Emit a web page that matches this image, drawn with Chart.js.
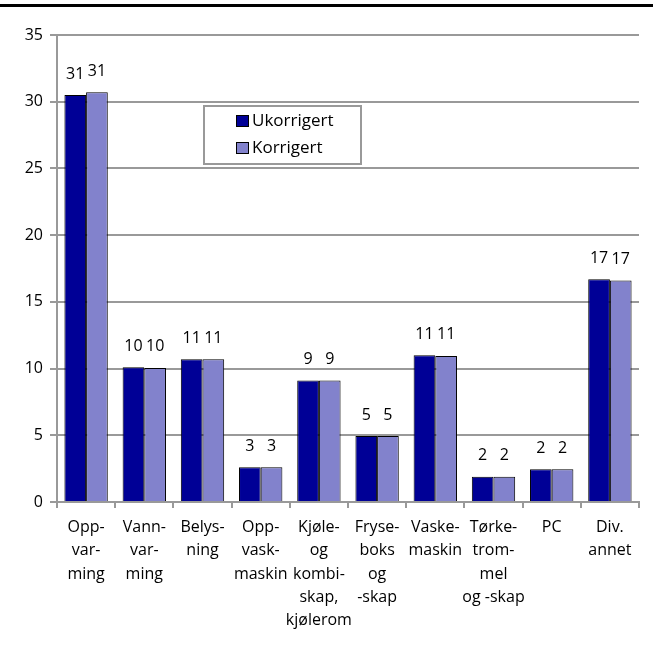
<!DOCTYPE html>
<html>
<head>
<meta charset="utf-8">
<script src="https://cdn.jsdelivr.net/npm/chart.js@4/dist/chart.umd.min.js"></script>
<style>
  html, body { margin: 0; padding: 0; background: #fff; }
  #wrap { position: relative; width: 653px; height: 648px; }
  #topline { position: absolute; left: 0; top: 4px; width: 653px; height: 3px; background: #000; }
  canvas { position: absolute; left: 0; top: 0; }
</style>
</head>
<body>
<div id="wrap">
  <canvas id="c" width="653" height="648"></canvas>
  <div id="topline"></div>
</div>
<script>
const categories = [
  ["Opp-", "var-", "ming"],
  ["Vann-", "var-", "ming"],
  ["Belys-", "ning"],
  ["Opp-", "vask-", "maskin"],
  ["Kjøle-", "og", "kombi-", "skap,", "kjølerom"],
  ["Fryse-", "boks", "og", "-skap"],
  ["Vaske-", "maskin"],
  ["Tørke-", "trom-", "mel", "og -skap"],
  ["PC"],
  ["Div.", "annet"]
];
const seriesNames = ["Ukorrigert", "Korrigert"];
const ukorrigert = [30.5, 10.1, 10.7, 2.6, 9.1, 4.95, 11.0, 1.9, 2.45, 16.7];
const korrigert  = [30.7, 10.05, 10.7, 2.6, 9.1, 4.95, 10.95, 1.9, 2.45, 16.6];
const yTicks = [0, 5, 10, 15, 20, 25, 30, 35];

const FONT = "'Open Sans', 'Noto Sans', sans-serif";
const colors = ["#000096", "#8282cc"];

const valueLabels = {
  id: 'valueLabels',
  afterDatasetsDraw(chart) {
    const ctx = chart.ctx;
    ctx.save();
    ctx.font = "16px " + FONT;
    ctx.fillStyle = "#000";
    ctx.textAlign = "center";
    ctx.textBaseline = "middle";
    chart.data.datasets.forEach((ds, i) => {
      chart.getDatasetMeta(i).data.forEach((bar, j) => {
        ctx.fillText(String(Math.round(ds.data[j])), bar.x, bar.y - 21);
      });
    });
    ctx.restore();
  }
};

const boxLegend = {
  id: 'boxLegend',
  afterDraw(chart) {
    const ctx = chart.ctx;
    ctx.save();
    const x = 204, y = 106, w = 157, h = 58;
    ctx.fillStyle = "#fff";
    ctx.fillRect(x, y, w, h);
    ctx.strokeStyle = "#999";
    ctx.lineWidth = 2;
    ctx.strokeRect(x, y, w, h);
    ctx.font = "17px " + FONT;
    ctx.textBaseline = "middle";
    ctx.textAlign = "left";
    chart.data.datasets.forEach((ds, i) => {
      const cy = y + 15 + i * 27;
      ctx.fillStyle = ds.backgroundColor;
      ctx.fillRect(236, cy - 6, 13, 12);
      ctx.strokeStyle = "#000";
      ctx.lineWidth = 1;
      ctx.strokeRect(236.5, cy - 5.5, 12, 11);
      ctx.fillStyle = "#000";
      ctx.fillText(ds.label, 252, cy);
    });
    ctx.restore();
  }
};

new Chart(document.getElementById('c'), {
  type: 'bar',
  data: {
    labels: categories,
    datasets: [
      { label: seriesNames[0], data: ukorrigert, backgroundColor: colors[0], borderColor: "#000", borderWidth: 1 },
      { label: seriesNames[1], data: korrigert, backgroundColor: colors[1], borderColor: "#000", borderWidth: 1 }
    ]
  },
  options: {
    responsive: false,
    animation: false,
    events: [],
    layout: { padding: { left: 0, right: 14, top: 35, bottom: 0 } },
    datasets: { bar: { categoryPercentage: 0.745, barPercentage: 1.0 } },
    plugins: { legend: { display: false }, tooltip: { enabled: false } },
    scales: {
      x: {
        afterFit(scale) { scale.height = 146; },
        grid: { drawOnChartArea: false, drawTicks: true, tickLength: 6, tickColor: "#999", lineWidth: 2, offset: true },
        border: { color: "#999", width: 2 },
        ticks: { font: { family: FONT, size: 16, lineHeight: 1.45 }, color: "#000", padding: 8, maxRotation: 0, autoSkip: false }
      },
      y: {
        min: 0, max: 35,
        afterFit(scale) { scale.width = 57; },
        afterBuildTicks(scale) { scale.ticks = yTicks.map(v => ({ value: v })); },
        grid: { color: "#999", lineWidth: 2, tickLength: 7, drawTicks: true },
        border: { color: "#999", width: 2 },
        ticks: { font: { family: FONT, size: 16 }, color: "#000", padding: 7 }
      }
    }
  },
  plugins: [valueLabels, boxLegend]
});
</script>
</body>
</html>
